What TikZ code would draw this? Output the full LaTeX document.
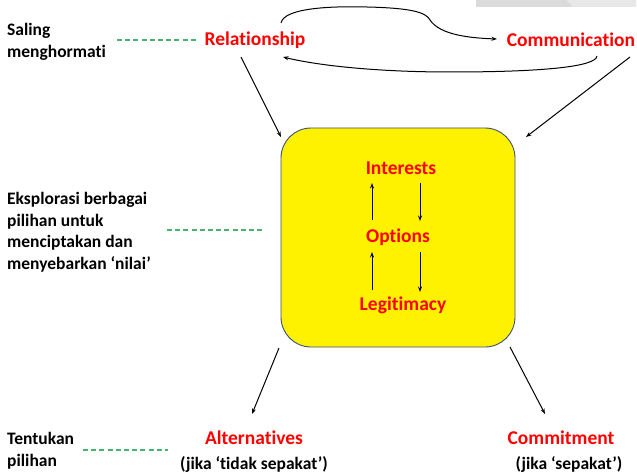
\documentclass[tikz,border=0pt]{standalone}
\usepackage{fontspec}
\setmainfont{Carlito}[RawFeature=-liga]
\usetikzlibrary{arrows.meta}
\definecolor{dashgreen}{RGB}{70,180,110}
\definecolor{boxedge}{RGB}{60,80,120}
\begin{document}
\begin{tikzpicture}[x=1pt,y=-1pt,
  redlabel/.style={text=red,font=\fontsize{19.5}{23}\selectfont\bfseries,inner sep=0pt},
  blacklabel/.style={text=black,font=\fontsize{17.5}{21.5}\selectfont\bfseries,inner sep=0pt},
  sidenote/.style={blacklabel,align=left,anchor=west},
  greendash/.style={draw=dashgreen,line width=1.2pt,dash pattern=on 5pt off 3.2pt},
  conn/.style={draw=black,line width=1pt,-{Stealth[length=5.5pt,width=4pt]}},
  bigbox/.style={draw=boxedge,line width=0.9pt,fill=yellow,rounded corners=30pt,minimum width=234pt,minimum height=219pt,inner sep=0pt}
]
\useasboundingbox (0,0) rectangle (637,476);
% grey band top right
\fill[black!14] (476,0) -- (567,0) -- (573,7) -- (476,7) -- cycle;
\fill[black!9] (567,0) -- (636,0) -- (636,7) -- (573,7) -- cycle;

% box
\node[bigbox] (box) at (398,237.5) {};

% red labels
\node[redlabel] (rel) at (255,40) {Relationship};
\node[redlabel] (com) at (571,40) {Communication};
\node[redlabel] (int) at (401,168) {Interests};
\node[redlabel] (opt) at (398,237) {Options};
\node[redlabel] (leg) at (403,305) {Legitimacy};
\node[redlabel] (alt) at (254,438) {Alternatives};
\node[redlabel] (cmt) at (561,438) {Commitment};
\node[blacklabel] (altn) at (254,464) {(jika ‘tidak sepakat’)};
\node[blacklabel] (cmtn) at (569,464) {(jika ‘sepakat’)};

% side notes
\node[sidenote] (sal) at (7,42) {Saling\\menghormati};
\node[sidenote] (eks) at (7,232) {Eksplorasi berbagai\\pilihan untuk\\menciptakan dan\\menyebarkan ‘nilai’};
\node[sidenote] (ten) at (7,450.5) {Tentukan\\pilihan};

% green dashed links
\coordinate (g1a) at (117,40); \coordinate (g1b) at (198,40);
\coordinate (g2a) at (167,230); \coordinate (g2b) at (262,230);
\coordinate (g3a) at (83,450); \coordinate (g3b) at (168,450);
\draw[greendash] (g1a) -- (g1b);
\draw[greendash] (g2a) -- (g2b);
\draw[greendash] (g3a) -- (g3b);

% curves between relationship and communication
\coordinate (rtop) at (281,23);
\coordinate (cleft) at (497,39);
\coordinate (cbot) at (597,56);
\coordinate (rbot) at (283,57);
\draw[conn] (rtop) .. controls (284,8) and (330,6) .. (367,7)
  .. controls (410,8) and (426,12) .. (430,20)
  .. controls (440,35) and (470,38) .. (cleft);
\draw[conn] (cbot) .. controls (596,67) and (540,72) .. (450,72)
  .. controls (380,72) and (320,66) .. (rbot);

% arrows into the box
\coordinate (r1) at (241,57); \coordinate (b1) at (281,137);
\coordinate (c1) at (630,57); \coordinate (b2) at (526,137);
\draw[conn] (r1) -- (b1);
\draw[conn] (c1) -- (b2);

% arrows inside the box
\coordinate (u1s) at (372,220); \coordinate (u1e) at (372,183);
\coordinate (u2s) at (372,290); \coordinate (u2e) at (372,252);
\coordinate (d1s) at (420,183); \coordinate (d1e) at (420,221);
\coordinate (d2s) at (420,252); \coordinate (d2e) at (420,292);
\draw[conn] (u1s) -- (u1e);
\draw[conn] (u2s) -- (u2e);
\draw[conn] (d1s) -- (d1e);
\draw[conn] (d2s) -- (d2e);

% arrows out of the box
\coordinate (o1) at (279,348); \coordinate (o1e) at (252,414);
\coordinate (o2) at (510,347); \coordinate (o2e) at (545,414);
\draw[conn] (o1) -- (o1e);
\draw[conn] (o2) -- (o2e);
\end{tikzpicture}
\end{document}
